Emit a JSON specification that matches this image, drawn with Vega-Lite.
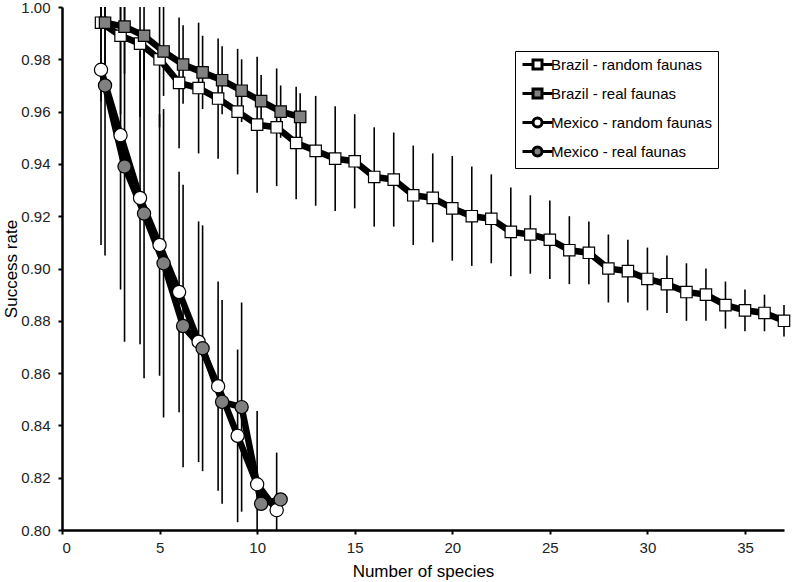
{
  "$schema": "https://vega.github.io/schema/vega-lite/v6.json",
  "width": 722,
  "height": 523,
  "autosize": {"type": "none"},
  "padding": {"left": 62, "top": 7, "right": 10, "bottom": 52},
  "background": "white",
  "config": {
    "view": {"stroke": null},
    "font": "Liberation Sans",
    "axis": {
      "grid": false,
      "domainColor": "black",
      "domainWidth": 2.5,
      "tickColor": "black",
      "tickWidth": 2,
      "tickSize": 4,
      "labelFont": "Liberation Sans",
      "labelFontSize": 15,
      "labelColor": "#222222",
      "titleFont": "Liberation Sans",
      "titleFontSize": 17,
      "titleFontWeight": "normal",
      "titleColor": "black"
    },
    "legend": {
      "orient": "none",
      "legendX": 453,
      "legendY": 44,
      "labelFont": "Liberation Sans",
      "labelFontSize": 15,
      "labelColor": "black",
      "labelLimit": 300,
      "strokeColor": "black",
      "padding": 6,
      "rowPadding": 8,
      "symbolSize": 100,
      "symbolOffset": 9,
      "labelOffset": 6,
      "symbolOpacity": 1,
      "symbolStrokeWidth": 3
    }
  },
  "data": {
    "values": [
      {"series": "Brazil - random faunas", "country": "Brazil", "fauna": "random", "species": 2, "rate": 0.994, "low": 0.964, "high": 1.024},
      {"series": "Brazil - random faunas", "country": "Brazil", "fauna": "random", "species": 3, "rate": 0.989, "low": 0.959, "high": 1.019},
      {"series": "Brazil - random faunas", "country": "Brazil", "fauna": "random", "species": 4, "rate": 0.986, "low": 0.958, "high": 1.014},
      {"series": "Brazil - random faunas", "country": "Brazil", "fauna": "random", "species": 5, "rate": 0.980, "low": 0.954, "high": 1.006},
      {"series": "Brazil - random faunas", "country": "Brazil", "fauna": "random", "species": 6, "rate": 0.971, "low": 0.946, "high": 0.996},
      {"series": "Brazil - random faunas", "country": "Brazil", "fauna": "random", "species": 7, "rate": 0.969, "low": 0.944, "high": 0.994},
      {"series": "Brazil - random faunas", "country": "Brazil", "fauna": "random", "species": 8, "rate": 0.965, "low": 0.942, "high": 0.988},
      {"series": "Brazil - random faunas", "country": "Brazil", "fauna": "random", "species": 9, "rate": 0.960, "low": 0.936, "high": 0.984},
      {"series": "Brazil - random faunas", "country": "Brazil", "fauna": "random", "species": 10, "rate": 0.955, "low": 0.929, "high": 0.981},
      {"series": "Brazil - random faunas", "country": "Brazil", "fauna": "random", "species": 11, "rate": 0.954, "low": 0.9315, "high": 0.9765},
      {"series": "Brazil - random faunas", "country": "Brazil", "fauna": "random", "species": 12, "rate": 0.948, "low": 0.9265, "high": 0.9695},
      {"series": "Brazil - random faunas", "country": "Brazil", "fauna": "random", "species": 13, "rate": 0.945, "low": 0.924, "high": 0.966},
      {"series": "Brazil - random faunas", "country": "Brazil", "fauna": "random", "species": 14, "rate": 0.942, "low": 0.922, "high": 0.962},
      {"series": "Brazil - random faunas", "country": "Brazil", "fauna": "random", "species": 15, "rate": 0.941, "low": 0.923, "high": 0.959},
      {"series": "Brazil - random faunas", "country": "Brazil", "fauna": "random", "species": 16, "rate": 0.935, "low": 0.916, "high": 0.954},
      {"series": "Brazil - random faunas", "country": "Brazil", "fauna": "random", "species": 17, "rate": 0.934, "low": 0.916, "high": 0.952},
      {"series": "Brazil - random faunas", "country": "Brazil", "fauna": "random", "species": 18, "rate": 0.928, "low": 0.909, "high": 0.947},
      {"series": "Brazil - random faunas", "country": "Brazil", "fauna": "random", "species": 19, "rate": 0.927, "low": 0.910, "high": 0.944},
      {"series": "Brazil - random faunas", "country": "Brazil", "fauna": "random", "species": 20, "rate": 0.923, "low": 0.903, "high": 0.943},
      {"series": "Brazil - random faunas", "country": "Brazil", "fauna": "random", "species": 21, "rate": 0.920, "low": 0.901, "high": 0.939},
      {"series": "Brazil - random faunas", "country": "Brazil", "fauna": "random", "species": 22, "rate": 0.919, "low": 0.902, "high": 0.936},
      {"series": "Brazil - random faunas", "country": "Brazil", "fauna": "random", "species": 23, "rate": 0.914, "low": 0.897, "high": 0.931},
      {"series": "Brazil - random faunas", "country": "Brazil", "fauna": "random", "species": 24, "rate": 0.913, "low": 0.898, "high": 0.928},
      {"series": "Brazil - random faunas", "country": "Brazil", "fauna": "random", "species": 25, "rate": 0.911, "low": 0.896, "high": 0.926},
      {"series": "Brazil - random faunas", "country": "Brazil", "fauna": "random", "species": 26, "rate": 0.907, "low": 0.894, "high": 0.920},
      {"series": "Brazil - random faunas", "country": "Brazil", "fauna": "random", "species": 27, "rate": 0.906, "low": 0.894, "high": 0.918},
      {"series": "Brazil - random faunas", "country": "Brazil", "fauna": "random", "species": 28, "rate": 0.900, "low": 0.887, "high": 0.913},
      {"series": "Brazil - random faunas", "country": "Brazil", "fauna": "random", "species": 29, "rate": 0.899, "low": 0.887, "high": 0.911},
      {"series": "Brazil - random faunas", "country": "Brazil", "fauna": "random", "species": 30, "rate": 0.896, "low": 0.884, "high": 0.908},
      {"series": "Brazil - random faunas", "country": "Brazil", "fauna": "random", "species": 31, "rate": 0.894, "low": 0.883, "high": 0.905},
      {"series": "Brazil - random faunas", "country": "Brazil", "fauna": "random", "species": 32, "rate": 0.891, "low": 0.880, "high": 0.902},
      {"series": "Brazil - random faunas", "country": "Brazil", "fauna": "random", "species": 33, "rate": 0.890, "low": 0.880, "high": 0.900},
      {"series": "Brazil - random faunas", "country": "Brazil", "fauna": "random", "species": 34, "rate": 0.886, "low": 0.877, "high": 0.895},
      {"series": "Brazil - random faunas", "country": "Brazil", "fauna": "random", "species": 35, "rate": 0.884, "low": 0.876, "high": 0.892},
      {"series": "Brazil - random faunas", "country": "Brazil", "fauna": "random", "species": 36, "rate": 0.883, "low": 0.876, "high": 0.890},
      {"series": "Brazil - random faunas", "country": "Brazil", "fauna": "random", "species": 37, "rate": 0.880, "low": 0.874, "high": 0.886},
      {"series": "Brazil - real faunas", "country": "Brazil", "fauna": "real", "species": 2, "rate": 0.994, "low": 0.974, "high": 1.014},
      {"series": "Brazil - real faunas", "country": "Brazil", "fauna": "real", "species": 3, "rate": 0.9925, "low": 0.9745, "high": 1.0105},
      {"series": "Brazil - real faunas", "country": "Brazil", "fauna": "real", "species": 4, "rate": 0.989, "low": 0.972, "high": 1.006},
      {"series": "Brazil - real faunas", "country": "Brazil", "fauna": "real", "species": 5, "rate": 0.983, "low": 0.966, "high": 1.000},
      {"series": "Brazil - real faunas", "country": "Brazil", "fauna": "real", "species": 6, "rate": 0.978, "low": 0.963, "high": 0.993},
      {"series": "Brazil - real faunas", "country": "Brazil", "fauna": "real", "species": 7, "rate": 0.975, "low": 0.961, "high": 0.989},
      {"series": "Brazil - real faunas", "country": "Brazil", "fauna": "real", "species": 8, "rate": 0.972, "low": 0.959, "high": 0.985},
      {"series": "Brazil - real faunas", "country": "Brazil", "fauna": "real", "species": 9, "rate": 0.968, "low": 0.956, "high": 0.980},
      {"series": "Brazil - real faunas", "country": "Brazil", "fauna": "real", "species": 10, "rate": 0.964, "low": 0.954, "high": 0.974},
      {"series": "Brazil - real faunas", "country": "Brazil", "fauna": "real", "species": 11, "rate": 0.960, "low": 0.950, "high": 0.970},
      {"series": "Brazil - real faunas", "country": "Brazil", "fauna": "real", "species": 12, "rate": 0.958, "low": 0.949, "high": 0.967},
      {"series": "Mexico - random faunas", "country": "Mexico", "fauna": "random", "species": 2, "rate": 0.976, "low": 0.909, "high": 1.043},
      {"series": "Mexico - random faunas", "country": "Mexico", "fauna": "random", "species": 3, "rate": 0.951, "low": 0.892, "high": 1.010},
      {"series": "Mexico - random faunas", "country": "Mexico", "fauna": "random", "species": 4, "rate": 0.927, "low": 0.871, "high": 0.983},
      {"series": "Mexico - random faunas", "country": "Mexico", "fauna": "random", "species": 5, "rate": 0.909, "low": 0.859, "high": 0.959},
      {"series": "Mexico - random faunas", "country": "Mexico", "fauna": "random", "species": 6, "rate": 0.891, "low": 0.845, "high": 0.937},
      {"series": "Mexico - random faunas", "country": "Mexico", "fauna": "random", "species": 7, "rate": 0.872, "low": 0.826, "high": 0.918},
      {"series": "Mexico - random faunas", "country": "Mexico", "fauna": "random", "species": 8, "rate": 0.855, "low": 0.815, "high": 0.895},
      {"series": "Mexico - random faunas", "country": "Mexico", "fauna": "random", "species": 9, "rate": 0.836, "low": 0.803, "high": 0.869},
      {"series": "Mexico - random faunas", "country": "Mexico", "fauna": "random", "species": 10, "rate": 0.8175, "low": 0.7895, "high": 0.8455},
      {"series": "Mexico - random faunas", "country": "Mexico", "fauna": "random", "species": 11, "rate": 0.8076, "low": 0.786, "high": 0.8296},
      {"series": "Mexico - real faunas", "country": "Mexico", "fauna": "real", "species": 2, "rate": 0.970, "low": 0.905, "high": 1.035},
      {"series": "Mexico - real faunas", "country": "Mexico", "fauna": "real", "species": 3, "rate": 0.939, "low": 0.872, "high": 1.006},
      {"series": "Mexico - real faunas", "country": "Mexico", "fauna": "real", "species": 4, "rate": 0.921, "low": 0.858, "high": 0.984},
      {"series": "Mexico - real faunas", "country": "Mexico", "fauna": "real", "species": 5, "rate": 0.902, "low": 0.843, "high": 0.961},
      {"series": "Mexico - real faunas", "country": "Mexico", "fauna": "real", "species": 6, "rate": 0.878, "low": 0.824, "high": 0.932},
      {"series": "Mexico - real faunas", "country": "Mexico", "fauna": "real", "species": 7, "rate": 0.8695, "low": 0.8225, "high": 0.9165},
      {"series": "Mexico - real faunas", "country": "Mexico", "fauna": "real", "species": 8, "rate": 0.849, "low": 0.810, "high": 0.888},
      {"series": "Mexico - real faunas", "country": "Mexico", "fauna": "real", "species": 9, "rate": 0.847, "low": 0.807, "high": 0.887},
      {"series": "Mexico - real faunas", "country": "Mexico", "fauna": "real", "species": 10, "rate": 0.810, "low": 0.810, "high": 0.810},
      {"series": "Mexico - real faunas", "country": "Mexico", "fauna": "real", "species": 11, "rate": 0.8117, "low": 0.8117, "high": 0.8117}
    ]
  },
  "layer": [
    {
      "transform": [{"filter": "datum.fauna == 'random'"}],
      "mark": {"type": "rule", "color": "black", "strokeWidth": 1.6},
      "encoding": {
        "x": {"field": "species", "type": "quantitative", "scale": {"domain": [0, 37], "nice": false}, "axis": {"values": [0, 5, 10, 15, 20, 25, 30, 35], "title": "Number of species", "labelPadding": 6, "titlePadding": 8}},
        "y": {"field": "low", "type": "quantitative", "scale": {"domain": [0.8, 1.0], "nice": false, "zero": false, "clamp": true}, "axis": {"values": [0.8, 0.82, 0.84, 0.86, 0.88, 0.9, 0.92, 0.94, 0.96, 0.98, 1.0], "format": ".2f", "title": "Success rate", "labelPadding": 8, "titlePadding": 0}},
        "y2": {"field": "high"}
      }
    },
    {
      "transform": [{"filter": "datum.fauna == 'real'"}],
      "mark": {"type": "rule", "color": "black", "strokeWidth": 1.6, "xOffset": 4},
      "encoding": {
        "x": {"field": "species", "type": "quantitative"},
        "y": {"field": "low", "type": "quantitative"},
        "y2": {"field": "high"}
      }
    },
    {
      "transform": [{"filter": "datum.fauna == 'random'"}],
      "mark": {"type": "line", "color": "black", "strokeWidth": 6.5, "strokeJoin": "round"},
      "encoding": {
        "x": {"field": "species", "type": "quantitative"},
        "y": {"field": "rate", "type": "quantitative"},
        "detail": {"field": "series"}
      }
    },
    {
      "transform": [{"filter": "datum.fauna == 'real'"}],
      "mark": {"type": "line", "color": "black", "strokeWidth": 6.5, "strokeJoin": "round", "xOffset": 4},
      "encoding": {
        "x": {"field": "species", "type": "quantitative"},
        "y": {"field": "rate", "type": "quantitative"},
        "detail": {"field": "series"}
      }
    },
    {
      "mark": {"type": "point", "opacity": 0, "filled": true, "strokeWidth": 3},
      "encoding": {
        "x": {"field": "species", "type": "quantitative"},
        "y": {"field": "rate", "type": "quantitative"},
        "shape": {
          "field": "series", "type": "nominal",
          "scale": {"domain": ["Brazil - random faunas", "Brazil - real faunas", "Mexico - random faunas", "Mexico - real faunas"], "range": ["M-3,0H-0.9V-0.9H0.9V0H3H0.9V0.9H-0.9V0Z", "M-3,0H-0.9V-0.9H0.9V0H3H0.9V0.9H-0.9V0Z", "M-3,0H-0.9A0.9,0.9 0 1,1 0.9,0H3H0.9A0.9,0.9 0 1,1 -0.9,0Z", "M-3,0H-0.9A0.9,0.9 0 1,1 0.9,0H3H0.9A0.9,0.9 0 1,1 -0.9,0Z"]},
          "legend": {"title": null}
        },
        "stroke": {
          "field": "series", "type": "nominal",
          "scale": {"domain": ["Brazil - random faunas", "Brazil - real faunas", "Mexico - random faunas", "Mexico - real faunas"], "range": ["#000000", "#000000", "#000000", "#000000"]},
          "legend": {"title": null}
        }
      }
    },
    {
      "transform": [{"filter": "datum.series == 'Brazil - random faunas'"}],
      "mark": {"type": "point", "shape": "square", "size": 130, "filled": true, "stroke": "black", "strokeWidth": 1.2, "opacity": 1},
      "encoding": {
        "x": {"field": "species", "type": "quantitative"},
        "y": {"field": "rate", "type": "quantitative"},
        "fill": {
          "field": "series", "type": "nominal",
          "scale": {"domain": ["Brazil - random faunas", "Brazil - real faunas", "Mexico - random faunas", "Mexico - real faunas"], "range": ["#ffffff", "#808080", "#ffffff", "#808080"]},
          "legend": {"title": null}
        }
      }
    },
    {
      "transform": [{"filter": "datum.series == 'Mexico - random faunas'"}],
      "mark": {"type": "point", "shape": "circle", "size": 175, "filled": true, "stroke": "black", "strokeWidth": 1.2, "opacity": 1},
      "encoding": {
        "x": {"field": "species", "type": "quantitative"},
        "y": {"field": "rate", "type": "quantitative"},
        "fill": {"field": "series", "type": "nominal"}
      }
    },
    {
      "transform": [{"filter": "datum.series == 'Brazil - real faunas'"}],
      "mark": {"type": "point", "shape": "square", "size": 130, "filled": true, "stroke": "black", "strokeWidth": 1.2, "opacity": 1, "xOffset": 4},
      "encoding": {
        "x": {"field": "species", "type": "quantitative"},
        "y": {"field": "rate", "type": "quantitative"},
        "fill": {"field": "series", "type": "nominal"}
      }
    },
    {
      "transform": [{"filter": "datum.series == 'Mexico - real faunas'"}],
      "mark": {"type": "point", "shape": "circle", "size": 175, "filled": true, "stroke": "black", "strokeWidth": 1.2, "opacity": 1, "xOffset": 4},
      "encoding": {
        "x": {"field": "species", "type": "quantitative"},
        "y": {"field": "rate", "type": "quantitative"},
        "fill": {"field": "series", "type": "nominal"}
      }
    }
  ]
}
